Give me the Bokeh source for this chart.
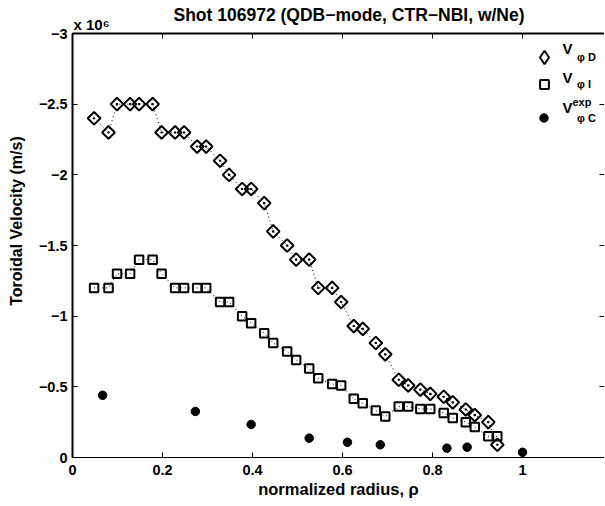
from bokeh.plotting import figure
from bokeh.models import (Range1d, LinearAxis, FixedTicker, Label, Legend, LegendItem,
                          ColumnDataSource, CustomJSTickFormatter, Title)
from bokeh.embed import file_html
from bokeh.resources import INLINE
import math

FONT = "Liberation Sans"

# ---------------- data (velocities in units of 10^6 m/s) ----------------
rho = [0.048, 0.080, 0.099, 0.128, 0.148, 0.178, 0.198, 0.228, 0.248, 0.277,
       0.297, 0.328, 0.348, 0.377, 0.397, 0.426, 0.446, 0.477, 0.497, 0.526,
       0.546, 0.577, 0.597, 0.625, 0.645, 0.674, 0.695, 0.725, 0.746, 0.773,
       0.795, 0.825, 0.845, 0.874, 0.894, 0.924, 0.944]
v_D = [-2.40, -2.30, -2.50, -2.50, -2.50, -2.50, -2.30, -2.30, -2.30, -2.20,
       -2.20, -2.10, -2.00, -1.90, -1.90, -1.80, -1.60, -1.50, -1.40, -1.40,
       -1.20, -1.20, -1.10, -0.93, -0.91, -0.81, -0.73, -0.55, -0.51, -0.48,
       -0.45, -0.43, -0.39, -0.34, -0.30, -0.25, -0.09]
v_I = [-1.20, -1.20, -1.30, -1.30, -1.40, -1.40, -1.30, -1.20, -1.20, -1.20,
       -1.20, -1.10, -1.10, -1.00, -0.95, -0.88, -0.81, -0.75, -0.69, -0.63,
       -0.56, -0.52, -0.51, -0.415, -0.384, -0.333, -0.29, -0.36, -0.36, -0.344,
       -0.344, -0.314, -0.28, -0.25, -0.215, -0.15, -0.15]
rho_C = [0.067, 0.273, 0.397, 0.526, 0.611, 0.684, 0.832, 0.877, 1.0]
v_C = [-0.44, -0.326, -0.234, -0.137, -0.108, -0.09, -0.066, -0.073, -0.037]

x_ticks = [0, 0.2, 0.4, 0.6, 0.8, 1]
x_tick_labels = ["0", "0.2", "0.4", "0.6", "0.8", "1"]
y_ticks = [0, -0.5, -1, -1.5, -2, -2.5, -3]
y_tick_labels = ["0", "\u22120.5", "\u22121", "\u22121.5", "\u22122", "\u22122.5", "\u22123"]

title_text = "Shot 106972 (QDB\u2212mode, CTR\u2212NBI, w/Ne)"
exp_text = "x 10\u2076"
x_label = "normalized radius, \u03c1"
y_label = "\u00a0" * 11 + "Toroidal Velocity (m/s)"
legend_main = ["V", "V", "V"]
legend_sub = ["\u03c6 D", "\u03c6 I", "\u03c6 C"]
legend_sup = "exp"

# ---------------- figure ----------------
p = figure(width=604, height=502, output_backend="svg", toolbar_location=None,
           x_range=Range1d(0, 1.1822), y_range=Range1d(0, -3),
           min_border_left=72, min_border_right=0, min_border_top=33,
           min_border_bottom=45, x_axis_location=None, y_axis_location=None)
p.grid.visible = False
p.outline_line_color = None
p.background_fill_color = "white"
p.border_fill_color = "white"

src_D = ColumnDataSource(dict(x=rho, y=v_D))
src_I = ColumnDataSource(dict(x=rho, y=v_I))
src_C = ColumnDataSource(dict(x=rho_C, y=v_C))

p.line("x", "y", source=src_D, line_color="black", line_width=1, line_dash="1 3")
p.line("x", "y", source=src_I, line_color="black", line_width=1, line_dash="1 3")

rD = p.scatter("x", "y", source=src_D, marker="square", angle=math.pi / 4, size=9,
               fill_color=None, line_color="black", line_width=2)
rI = p.scatter("x", "y", source=src_I, marker="square", size=8.5,
               fill_color=None, line_color="black", line_width=2)
rC = p.scatter("x", "y", source=src_C, marker="circle", size=8.5,
               fill_color="black", line_color="black")
# centre dots of the diamonds; this renderer also provides the diamond legend key
rD_key = p.scatter("x", "y", source=src_D, marker="diamond", size=1,
                   fill_color=None, line_color="black", line_width=2)

blank = CustomJSTickFormatter(code="return ''")


def style_axis(ax, labels=True):
    ax.axis_line_color = "black"
    ax.axis_line_width = 2
    ax.major_tick_line_color = "black"
    ax.major_tick_in = 5
    ax.major_tick_out = 0
    ax.minor_tick_line_color = None
    ax.major_label_text_font = FONT
    ax.major_label_text_font_style = "bold"
    ax.major_label_text_font_size = "14.5px"
    ax.major_label_text_color = "black"
    ax.axis_label_text_font = FONT
    ax.axis_label_text_font_style = "bold"
    ax.axis_label_text_font_size = "16px"
    ax.axis_label_text_color = "black"
    if not labels:
        ax.formatter = blank
        ax.major_label_standoff = 0


xb = LinearAxis(ticker=FixedTicker(ticks=x_ticks),
                major_label_overrides=dict(zip(x_ticks, x_tick_labels)),
                axis_label=x_label)
style_axis(xb)
xb.axis_line_width = 1
xb.axis_label_text_font_size = "16.5px"
xb.major_label_standoff = 7
xb.axis_label_standoff = 2
p.add_layout(xb, "below")

xt = LinearAxis(ticker=FixedTicker(ticks=x_ticks))
style_axis(xt, labels=False)
p.add_layout(xt, "above")

yl = LinearAxis(ticker=FixedTicker(ticks=y_ticks),
                major_label_overrides=dict(zip(y_ticks, y_tick_labels)),
                axis_label=y_label)
style_axis(yl)
yl.major_label_standoff = 5
yl.axis_label_standoff = 11
p.add_layout(yl, "left")

yr = LinearAxis(ticker=FixedTicker(ticks=y_ticks))
style_axis(yr, labels=False)
yr.axis_line_color = None
p.add_layout(yr, "right")

# ---------------- exponent and title ----------------
p.add_layout(Title(text=exp_text, align="left", offset=1, standoff=1,
                   vertical_align="bottom", text_font=FONT, text_font_style="bold",
                   text_font_size="15px", text_color="black"), "above")
p.title.text = title_text
p.title.align = "left"
p.title.offset = 101
p.title.standoff = -22
p.title.vertical_align = "bottom"
p.title.text_font = FONT
p.title.text_font_style = "bold"
p.title.text_font_size = "17.5px"
p.title.text_color = "black"

# ---------------- legend ----------------
common = dict(padding=0, margin=0, border_line_color=None, background_fill_alpha=0,
              label_text_font=FONT, label_text_font_style="bold",
              label_text_font_size="11px", label_text_color="black")
p.add_layout(Legend(items=[LegendItem(label=legend_sub[0], renderers=[rD_key])],
                    location=(455, 383), glyph_width=34, glyph_height=34,
                    label_standoff=16, **common))
p.add_layout(Legend(items=[LegendItem(label=legend_sub[1], renderers=[rI])],
                    location=(461, 362), glyph_width=22, glyph_height=22,
                    label_standoff=22, **common))
p.add_layout(Legend(items=[LegendItem(label=legend_sub[2], renderers=[rC])],
                    location=(461, 329), glyph_width=21, glyph_height=21,
                    label_standoff=23, **common))

v_style = dict(x_units="screen", y_units="screen", text_font=FONT,
               text_font_style="bold", text_font_size="15px",
               text_baseline="middle", text_align="left", text_color="black")
for yy, t in zip([409, 380, 350], legend_main):
    p.add_layout(Label(x=490, y=yy, text=t, **v_style))
p.add_layout(Label(x=500, y=356, text=legend_sup, x_units="screen", y_units="screen",
                   text_font=FONT, text_font_style="bold", text_font_size="11px",
                   text_baseline="middle", text_align="left", text_color="black"))

open("out.html", "w").write(file_html(p, INLINE))
